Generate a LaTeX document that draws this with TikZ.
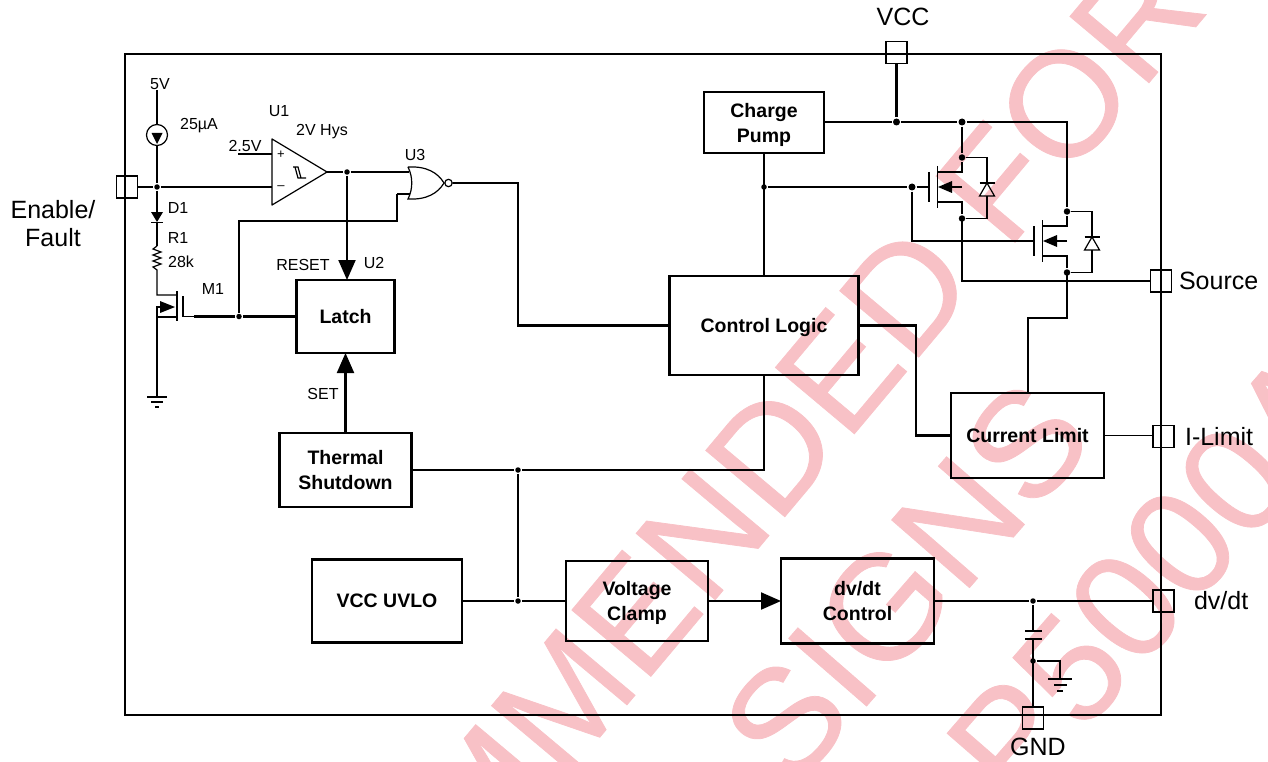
\documentclass[tikz,border=0pt]{standalone}
\usepackage{fontspec}
\setmainfont{Liberation Sans}
\newfontfamily\wmfont[FakeBold=0.5]{Liberation Sans}
\usetikzlibrary{arrows.meta}
\definecolor{wmcolor}{HTML}{F8C1C6}
\begin{document}
\begin{tikzpicture}[x=1pt,y=-1pt,thick,line width=2.1pt,
  main node/.style={rectangle,draw,line width=2.1pt,outer sep=0pt,align=center,text depth=0pt,font=\fontsize{19.5}{25}\selectfont\bfseries},
  pin/.style={rectangle,draw,line width=1.3pt,outer sep=0pt,minimum width=21pt,minimum height=22pt},
  dot/.style={circle,fill=black,inner sep=0pt,minimum size=7pt},
  small dot/.style={dot,minimum size=5.5pt},
  lab/.style={font=\fontsize{16}{18}\selectfont,inner sep=0pt},
  pinlab/.style={font=\fontsize{25}{28}\selectfont,inner sep=0pt,align=center},
  wmark/.style={font=\wmfont\fontsize{150}{150}\selectfont,text=wmcolor,rotate=49,inner sep=0pt},
  thin wire/.style={line width=1.2pt},
  big tip/.style={-{Triangle[length=20pt,width=17pt]}}]
\useasboundingbox (0,0) rectangle (1268,762);

\begin{scope}
\clip (0,0) rectangle (1268,762);
\node[wmark,rotate=1] (W1) at (807,410) {MMENDED FOR};
\node[wmark] (W2) at (906,582) {SIGNS};
\node[wmark] (W3) at (1153,575) {P5000A};
\end{scope}

\draw (125,54) rectangle (1161,715);

\node[main node,minimum width=120pt,minimum height=61pt] (CP) at (764,122.5) {Charge\\Pump};
\node[main node,minimum width=189pt,minimum height=99pt] (CL) at (764,325.5) {Control Logic};
\node[main node,minimum width=98pt,minimum height=73pt] (LA) at (345.5,316.5) {Latch};
\node[main node,minimum width=132pt,minimum height=74pt] (TS) at (345.5,470) {Thermal\\Shutdown};
\node[main node,minimum width=150pt,minimum height=83pt] (UV) at (387,601) {VCC UVLO};
\node[main node,minimum width=142pt,minimum height=80pt] (VC) at (637,601) {Voltage\\Clamp};
\node[main node,minimum width=153pt,minimum height=85pt] (DV) at (857.5,601) {dv/dt\\Control};
\node[main node,minimum width=153pt,minimum height=85pt] (CU) at (1027.5,435.5) {Current Limit};

\node[pin] (PV) at (896.5,52.5) {};
\node[pin] (PE) at (127,187) {};
\node[pin] (PS) at (1161,281) {};
\node[pin] (PI) at (1163.5,436.5) {};
\node[pin] (PD) at (1163.5,601) {};
\node[pin] (PG) at (1033,718) {};

\node[pinlab] (tV) at (903,17) {VCC};
\node[pinlab] (tE) at (53,224) {Enable/\\Fault};
\node[pinlab,anchor=west] (tS) at (1178,281) {Source};
\node[pinlab,anchor=west] (tI) at (1184,437) {I-Limit};
\node[pinlab,anchor=west] (tD) at (1193,601) {dv/dt};
\node[pinlab] (tG) at (1038,747) {GND};

\node[lab] (t5) at (160,84) {5V};
\node[lab] (tA) at (199,126) {25µA};
\node[lab] (tU1) at (279,111) {U1};
\node[lab] (tH) at (322,132) {2V Hys};
\node[lab] (t25) at (245,146) {2.5V};
\node[lab] (tU3) at (415,155) {U3};
\node[lab] (tD1) at (178,208) {D1};
\node[lab] (tR1) at (178,238) {R1};
\node[lab] (t28) at (181,262) {28k};
\node[lab] (tM1) at (213,289) {M1};
\node[lab] (tRS) at (303,265) {RESET};
\node[lab] (tU2) at (374,263) {U2};
\node[lab] (tST) at (323,394) {SET};

\node[small dot] (jE) at (157,187) {};
\node[small dot] (jO) at (347,172) {};
\node[small dot] (jM) at (239,316.5) {};
\node[dot] (jV) at (896.5,122) {};
\node[dot] (jF) at (962,122) {};
\node[small dot] (jG) at (764,187) {};
\node[dot] (jH) at (912,187) {};
\node[small dot] (jT) at (518,470) {};
\node[small dot] (jC) at (518,601) {};
\node[small dot] (jD) at (1033,601) {};
\node[small dot] (jK) at (1033,661) {};

\coordinate (cmpA) at (272,139);
\coordinate (cmpB) at (272,205);
\coordinate (cmpC) at (327,172);
\coordinate (cmpP) at (272,154);
\coordinate (cmpM) at (272,187);
\coordinate (volt) at (238,154);
\coordinate (norA) at (397,172);
\coordinate (norB) at (397,194);
\coordinate (nout) at (453,183);
\coordinate (mate) at (194,316.5);
\coordinate (top5) at (157,90);
\coordinate (gnd1) at (157,397);
\coordinate (gnd2) at (1060,679);
\coordinate (fetG) at (1017,241);
\coordinate (fetH) at (912,241);

\draw (PV) -- (jV);
\draw (CP.east |- jV) -- (jV) -- (jF) -- (1067,122) -- (1067,186);
\draw (CP) -- (CL);
\draw (jG) -- (jH);
\draw (jH) -- (fetH) -- (fetG);
\draw (jF) -- (962,140);
\draw (962,241) -- (962,281) -- (PS.west);
\draw[thin wire] (962,219) -- (962,241);
\draw[thin wire] (1067,272) -- (1067,290);
\draw (1067,290) -- (1067,318) -- (1028,318) -- (1028,393);
\draw (CL.east) -- (916,325.5) -- (916,435.5) -- (CU.west);
\draw[thin wire] (CU.east) -- (PI.west |- CU.east);
\draw (CL.south) -- (764,470) -- (jT) -- (TS.east);
\draw (jT) -- (jC);
\draw (UV) -- (jC) -- (VC);
\draw[big tip] (VC) -- (DV);
\draw (DV) -- (jD) -- (PD);
\draw[big tip] (TS) -- (LA);
\draw (nout) -- (518,183) -- (518,325.5) -- (CL.west);
\draw (LA) -- (jM) -- (mate);
\draw (jM) -- (239,221) -- (397,221) -- (norB);
\draw (cmpC) -- (jO) -- (norA);
\draw[big tip] (jO) -- (jO |- LA.north);
\draw (PE) -- (jE) -- (cmpM);
\draw[thin wire] (volt) -- (cmpP);
\draw[thin wire,line join=round] (cmpA) -- (cmpB) -- (cmpC) -- cycle;
\node[lab,font=\fontsize{13}{13}\selectfont] (tP) at (281,155) {+};
\node[lab,font=\fontsize{13}{13}\selectfont] (tN) at (281,188) {--};
\draw[thin wire] (293,167) -- (298,167) -- (301,178) -- (306,178) (295,167) -- (298,178) -- (301,178);

\draw[thin wire] (norA) -- (409,172) (norB) -- (410,194);
\draw[thin wire] (408,167) .. controls (427,166) and (438,173) .. (444,183)
  .. controls (438,193) and (427,200) .. (408,199)
  .. controls (413,189) and (413,177) .. (408,167);
\draw[thin wire] (448.5,183) circle (3.7);

\draw[thin wire] (top5) -- (157,124.5) (157,145.5) -- (jE);
\draw[thin wire] (jE) -- (157,213) (157,222) -- (157,246);
\draw[thin wire] (157,135) circle (10.5);
\fill (151.5,133) -- (162.5,133) -- (157,144) -- cycle;
\fill (151,212) -- (163,212) -- (157,222) -- cycle;
\draw[thin wire] (151,222.5) -- (163,222.5);
\draw[thin wire] (157,246) -- (153,249) -- (161,252) -- (153,255) -- (161,258) -- (153,261) -- (161,264) -- (153,267) -- (157,270) -- (157,295) -- (177,295);
\draw[thin wire] (177,291) -- (177,321) (183,296) -- (183,316.5) -- (mate);
\draw[thin wire] (gnd1) -- (157,307) -- (161,307) (157,317) -- (177,317);
\fill (160,301) -- (175,307) -- (160,313) -- cycle;
\draw[thin wire] (147,397) -- (167,397) (151,402) -- (163,402) (155,407) -- (159,407);

\foreach \mx/\my/\n in {962/187/A,1067/241/B} {
  \node[dot,minimum size=6.5pt] (\n d) at (\mx,\my-29.5) {};
  \node[dot,minimum size=6.5pt] (\n s) at (\mx,\my+31.5) {};
  \draw[thin wire] (\mx-33,\my-15) -- (\mx-33,\my+15);
  \draw[thin wire] (\mx-24.5,\my-21) -- (\mx-24.5,\my+21);
  \draw[thin wire] (\mx-24,\my-15) -- (\mx,\my-15) -- (\n d);
  \draw[thin wire] (\mx-24,\my+15) -- (\mx,\my+15) -- (\n s);
  \draw[thin wire] (\mx,\my) -- (\mx-10,\my);
  \fill (\mx-10,\my-6) -- (\mx-24,\my) -- (\mx-10,\my+6) -- cycle;
  \draw[thin wire] (\n d) -- (\mx+25,\my-29.5) -- (\mx+25,\my-4);
  \draw[thin wire] (\n s) -- (\mx+25,\my+31.5) -- (\mx+25,\my+9);
  \draw[thin wire] (\mx+17.5,\my-4) -- (\mx+32.5,\my-4);
  \draw[thin wire] (\mx+25,\my-4) -- (\mx+17.5,\my+9) -- (\mx+32.5,\my+9) -- cycle;
}
\draw[thin wire] (jH) -- (929,187) (fetG) -- (1034,241);
\draw[thin wire] (962,140) -- (Ad) (1067,186) -- (Bd);

\draw (jD) -- (1033,631);
\draw (1033,639) -- (1033,697);
\draw[thin wire] (1033,697) -- (PG.north);
\draw[line width=1.6pt] (1025,631) -- (1042,631) (1025,639) -- (1042,639);
\draw (jK) -- (1060,661) -- (gnd2);
\draw[line width=1.6pt] (1048,679) -- (1072,679) (1054,685) -- (1067,685) (1057,691) -- (1063,691);
\end{tikzpicture}
\end{document}
